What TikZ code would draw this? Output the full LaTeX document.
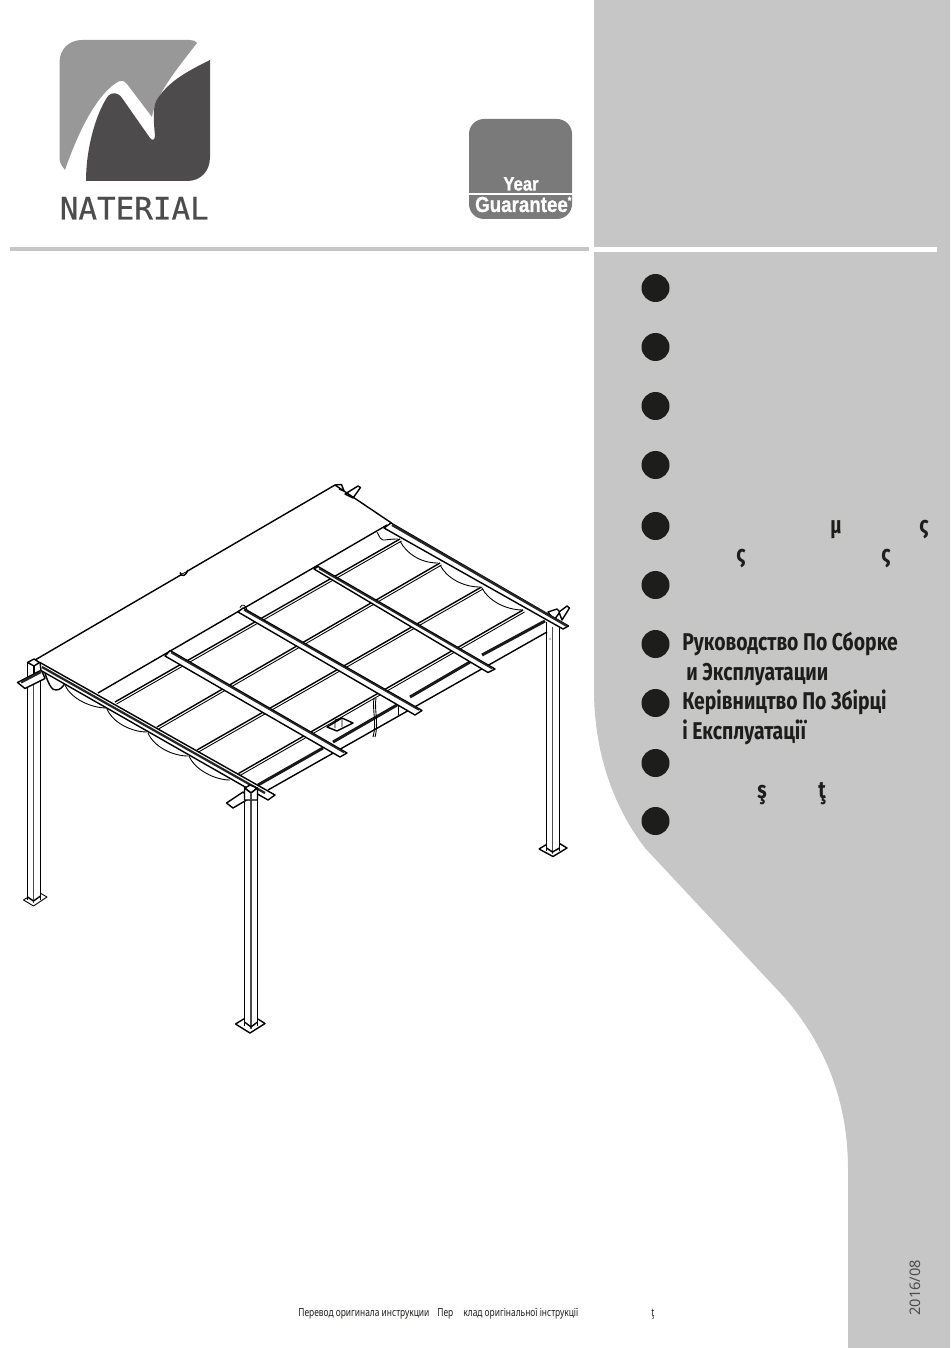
\documentclass[tikz,border=0pt]{standalone}
\usepackage{fontspec}
\setmainfont{Noto Sans}
\newfontfamily\manualfont[FakeStretch=0.8]{Fira Sans}
\newfontfamily\footfont[FakeStretch=0.76]{Noto Sans}
\newfontfamily\logofont[FakeBold=0.6]{DejaVu Sans Mono}
\newfontfamily\badgefont[FakeStretch=0.86,BoldFeatures={FakeBold=0.8}]{Liberation Sans}
\definecolor{panelgrey}{HTML}{C6C6C6}
\definecolor{lightlogo}{HTML}{989898}
\definecolor{darklogo}{HTML}{4D4B4C}
\definecolor{badgegrey}{HTML}{7A7A7A}
\definecolor{inkblack}{HTML}{1D1D1B}
\tikzset{
	bullet/.style={circle,fill=inkblack,minimum size=0.56cm,inner sep=0pt},
	title/.style={anchor=base west,inner sep=0pt,text=inkblack,font=\manualfont\fontsize{13.8}{15}\selectfont\bfseries},
	stray/.style={anchor=base,inner sep=0pt,text=inkblack,font=\manualfont\fontsize{13.8}{15}\selectfont\bfseries},
	foot/.style={anchor=base west,inner sep=0pt,text=inkblack,font=\footfont\fontsize{6.3}{7}\selectfont},
	frame/.style={line width=0.8pt,black,line join=round},
	thin frame/.style={line width=0.5pt,black,line join=round},
	heavy/.style={line width=1.3pt,black!85},
	rail/.style={line width=1.7pt,black!90},
	metal/.style={frame,fill=white}
}
\begin{document}
\begin{tikzpicture}[x=0.02cm,y=-0.02cm]
	\useasboundingbox (0,0) rectangle (950,1348);
	% side panel
	\fill[panelgrey] (594,0) -- (594,690) .. controls (594,750) and (612,805) .. (645,848)
		-- (785,998) .. controls (825,1045) and (848,1100) .. (848,1170)
		-- (848,1348) -- (950,1348) -- (950,0) -- cycle;
	\fill[white] (594,246.5) rectangle (937,251.5);
	\fill[panelgrey] (10,247) rectangle (589,251);

	% logo
	\fill[lightlogo] (59.5,63) .. controls (59.5,48) and (70,40) .. (82,40) -- (190,40)
		.. controls (193,40) and (196,41) .. (197,43)
		.. controls (180,65) and (155,95) .. (152,117)
		-- (127,84) .. controls (124,80) and (120,80) .. (116,83)
		.. controls (95,97) and (77,135) .. (65,170)
		.. controls (61,165) and (59.5,162) .. (59.5,158) -- cycle;
	\fill[darklogo] (210,60) -- (210,157) .. controls (210,172) and (200,181) .. (187,181)
		-- (86,181) .. controls (86,150) and (95,115) .. (108,96)
		.. controls (112,92) and (118,92) .. (122,98)
		-- (150,138) .. controls (152,141) and (155,140) .. (155,136)
		.. controls (153,115) and (153,105) .. (158,98)
		.. controls (170,80) and (190,70) .. (210,60) -- cycle;
	\node[anchor=base west,inner sep=0pt,text=darklogo,font=\logofont\fontsize{17.6}{18}\selectfont] (brand) at (59.5,219.5) {NATERIAL};

	% badge
	\fill[badgegrey,rounded corners=0.3cm] (469,119) rectangle (572,219);
	\fill[white] (468,193) rectangle (573,195);
	\node[anchor=base,inner sep=0pt,text=white,font=\badgefont\fontsize{11}{12}\selectfont\bfseries] (year) at (521,190.5) {Year};
	\node[anchor=base,inner sep=0pt,text=white,font=\badgefont\fontsize{12.4}{13}\selectfont\bfseries] (guarantee) at (521.5,212) {Guarantee};
	\node[anchor=base,inner sep=0pt,text=white,font=\badgefont\fontsize{6}{7}\selectfont\bfseries] (star) at (569.5,204) {*};

	% language bullets
	\foreach \name/\ypos in {a/288,b/347,c/406,d/465,e/526,f/585,g/644,h/703,i/763,j/821}
		\node[bullet] (bullet\name) at (655.5,\ypos) {};

	\node[title] (rutop) at (682,650) {Руководство По Сборке};
	\node[title] (rubot) at (686,680) {и Эксплуатации};
	\node[title] (uktop) at (682,709) {Керівництво По Збірці};
	\node[title] (ukbot) at (682,739) {і Експлуатації};
	\node[stray] (mu) at (836,533) {μ};
	\node[stray] (sigmaa) at (924,533) {ς};
	\node[stray] (sigmab) at (741,562) {ς};
	\node[stray] (sigmac) at (886,562) {ς};
	\node[stray] (scedil) at (762,798) {ş};
	\node[stray] (tcedil) at (822,798) {ţ};

	% footer
	\node[foot] (footru) at (298,1316) {Перевод оригинала инструкции};
	\node[foot] (footuka) at (437,1316) {Пер};
	\node[foot] (footukb) at (463,1316) {клад оригінальної інструкції};
	\node[foot] (foott) at (651,1316) {ţ};
	\node[rotate=90,anchor=base west,inner sep=0pt,text=black!70,font=\fontsize{8.3}{10}\selectfont] (date) at (920,1316) {2016/08};

	% posts
	\foreach \xa/\xb/\xc/\ytop/\ybot in {27.5/33.5/40.5/662/900, 244.5/251/257.5/786/1026, 546.5/552.5/559.5/622/851}{
		\draw[frame] (\xa,\ytop) -- (\xa,\ybot) (\xc,\ytop) -- (\xc,\ybot);
		\draw[frame,black!70] (\xb,\ytop+5) -- (\xb,\ybot+3);
	}
	% base plates
	\draw[thin frame] (23.5,900) -- (33.5,906) -- (47,897) -- (41,893.5);
	\draw[thin frame] (23.5,900) -- (27.5,897.5);
	\draw[frame] (27.5,897) -- (33.5,901) -- (40.5,896);
	\draw[frame] (235.5,1024) -- (250,1033) -- (265,1023.5) -- (258,1019);
	\draw[frame] (235.5,1024) -- (244.5,1018.5);
	\draw[frame] (244.5,1022) -- (251,1027) -- (257.5,1022);
	\draw[frame] (539,849) -- (553,856.5) -- (567,848) -- (559.5,843.5);
	\draw[frame] (539,849) -- (546.5,844.5);
	\draw[frame] (546.5,848) -- (552.5,852) -- (559.5,848);
	\fill (550,639) circle (0.6);

	% post heads
	\draw[metal] (27.5,662.5) -- (34,659) -- (39.5,662.5) -- (34,666) -- cycle;
	\draw[frame] (34,666) -- (34,680) (27.5,662.5) -- (27.5,680);
	% brackets
	\draw[metal] (17.5,682.5) -- (25,688.5) -- (45,678.5) -- (41.5,670) -- cycle;
	\draw[heavy] (21,682.5) -- (41,672);
	\draw[metal] (226.5,803) -- (233,808) -- (250,798) -- (243,792) -- cycle;
	\draw[metal] (335,485) -- (341.5,484.5) -- (344,491) -- (339,489);
	\draw[metal] (345,494) -- (358,486) -- (360.5,487.5) -- (353,498) -- cycle;
	\draw[metal] (548,612) -- (557,609) -- (560,612) -- (554,620) -- cycle;
	\draw[metal] (559,612) -- (567,606) -- (569.5,608) -- (562,620) -- cycle;

	% canopy edges
	\draw[frame] (35,660) -- (335,485) -- (391.5,523);
	\draw[frame] (98,693) -- (387,525);
	\draw[frame,fill=white] (180,572.5) .. controls (182,577) and (185,577) .. (188,570);
	\draw[thin frame] (181,574.5) -- (187,571.5);

	% ribs
	\foreach \xa/\ya/\xb/\yb in {115/702/400/539, 157/727/440/563, 197/750/481.5/587, 238.5/773.5/523/610}{
		\draw[frame] (\xa,\ya) -- (\xb,\yb);
		\draw[thin frame] (\xa+1.5,\ya+2) -- (\xb+1.5,\yb+2);
	}

	% scallops
	\draw[frame] (45,673) .. controls (48,683) and (52,691) .. (56,690) .. controls (60,690) and (63,687) .. (65,683);
	\foreach \xa/\ya/\xb/\yb in {65/685/106.5/708, 107/709/147/732, 148/733/188/756, 189/756/230/780}
		\draw[thin frame] (\xa,\ya) .. controls (\xa+6,\ya+14) and (\xb-15,\yb) .. (\xb,\yb);
	\foreach \xa/\ya/\xb/\yb in {377/532/398/539, 400/541/438/563, 440/565/480/587, 482/588/523/610}
		\draw[thin frame] (\xa,\ya) .. controls (\xa+6,\ya+12) and (\xb-18,\yb) .. (\xb,\yb);

	% side rail at the back
	\draw[frame] (268,790) -- (547,632);
	\draw[rail] (258,785) -- (323,748);
	\draw[rail] (333,742) -- (397,705);
	\draw[rail] (410,697) -- (470,662);
	\draw[rail] (482,655) -- (545,621);
	\draw[thin frame] (398,705) -- (398,715);

	% winder in the middle
	\draw[metal] (327,727) -- (342,718) -- (353,723) -- (337,731) -- cycle;
	\draw[thin frame] (335,720) -- (335,728) (342,718) -- (342,727) (335,720) -- (342,718);
	\draw[thin frame] (374,698) .. controls (372,710) and (377,722) .. (373,737);
	\draw[thin frame] (376,698) .. controls (374,710) and (379,722) .. (375,737);

	% beam at the front
	\draw[metal] (40,662.5) -- (275,795) -- (268,800) -- (41,670.5) -- cycle;
	\draw[heavy] (42,667) -- (265,793);
	% beam on the right
	\draw[metal] (391,523) -- (568.5,626) -- (563,629) -- (384,528) -- cycle;
	\draw[heavy] (392,525) -- (567,626);
	% head of the front post
	\draw[metal] (245,788) -- (250,785) -- (257,788) -- (251,793) -- cycle;
	\draw[frame,fill=white] (244.5,788) -- (244.5,800) -- (257.5,800) -- (257.5,788) -- (251,793) -- cycle;
	\draw[frame,black!70] (251,793) -- (251,800);

	% cross bars
	\foreach \xa/\ya/\xb/\yb/\xc/\yc/\xd/\yd in {170/650.5/347/753/340/757/165/656,
		243/608/422/710.5/415/715/238/612, 318/566.5/495/669/488/672.5/314/569}{
		\draw[metal] (\xa,\ya) -- (\xb,\yb) -- (\xc,\yc) -- (\xd,\yd) -- cycle;
		\draw[heavy,line width=0.9pt] (\xa+1,\ya+2) -- (\xb-3,\yb-0.5);
	}
	\draw[thin frame] (240,607.5) .. controls (242,603) and (246,605) .. (247,610);
\end{tikzpicture}
\end{document}
